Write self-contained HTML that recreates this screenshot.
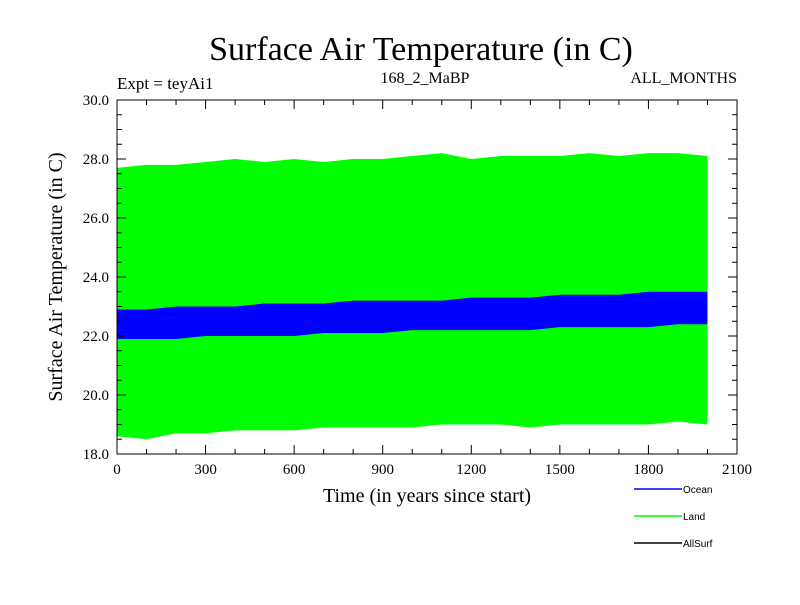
<!DOCTYPE html>
<html><head><meta charset="utf-8"><style>
body{margin:0;background:#fff;}
svg text{font-family:"Liberation Serif",serif;fill:#000;}
svg text.sans{font-family:"Liberation Sans",sans-serif;}
</style></head><body>
<svg id="chart" width="800" height="600" xmlns="http://www.w3.org/2000/svg">
<text x="421" y="60" text-anchor="middle" font-size="34">Surface Air Temperature (in C)</text>
<text x="117" y="89" font-size="17">Expt = teyAi1</text>
<text x="425" y="83" text-anchor="middle" font-size="16">168_2_MaBP</text>
<text x="737" y="83" text-anchor="end" font-size="16">ALL_MONTHS</text>
<g id="marks"></g>
<rect x="117" y="100" width="620" height="354" fill="none" stroke="#000" stroke-width="1"/>
<g id="axes"></g>
<text x="427" y="502" text-anchor="middle" font-size="20">Time (in years since start)</text>
<text transform="translate(62,277) rotate(-90)" text-anchor="middle" font-size="20">Surface Air Temperature (in C)</text>
<g>
<line x1="634" y1="489" x2="682" y2="489" stroke="#0000ff" stroke-width="1.5"/>
<text class="sans" x="683" y="493" font-size="10">Ocean</text>
<line x1="634" y1="516" x2="682" y2="516" stroke="#00ff00" stroke-width="1.5"/>
<text class="sans" x="683" y="520" font-size="10">Land</text>
<line x1="634" y1="543" x2="682" y2="543" stroke="#000" stroke-width="1.5"/>
<text class="sans" x="683" y="547" font-size="10">AllSurf</text>
</g>
</svg>
<script>
const years = [0,100,200,300,400,500,600,700,800,900,1000,1100,1200,1300,1400,1500,1600,1700,1800,1900,2000];
const landUpper = [27.7,27.8,27.8,27.9,28.0,27.9,28.0,27.9,28.0,28.0,28.1,28.2,28.0,28.1,28.1,28.1,28.2,28.1,28.2,28.2,28.1];
const landLower = [18.6,18.5,18.7,18.7,18.8,18.8,18.8,18.9,18.9,18.9,18.9,19.0,19.0,19.0,18.9,19.0,19.0,19.0,19.0,19.1,19.0];
const oceanUpper = [22.9,22.9,23.0,23.0,23.0,23.1,23.1,23.1,23.2,23.2,23.2,23.2,23.3,23.3,23.3,23.4,23.4,23.4,23.5,23.5,23.5];
const oceanLower = [21.9,21.9,21.9,22.0,22.0,22.0,22.0,22.1,22.1,22.1,22.2,22.2,22.2,22.2,22.2,22.3,22.3,22.3,22.3,22.4,22.4];
const xTicks = [0,300,600,900,1200,1500,1800,2100];
const yTicks = [18,20,22,24,26,28,30];

const NS="http://www.w3.org/2000/svg";
const X0=117,X1=737,Y0=454,Y1=100;
function xs(v){return X0+(v-0)/2100*(X1-X0);}
function ys(v){return Y0-(v-18)/12*(Y0-Y1);}
function mk(t,a,p){const e=document.createElementNS(NS,t);for(const k in a)e.setAttribute(k,a[k]);p.appendChild(e);return e;}
const marks=document.getElementById('marks'),axes=document.getElementById('axes');
function band(up,lo,col,name){
  let pts=years.map((y,i)=>xs(y)+','+ys(up[i]));
  for(let i=years.length-1;i>=0;i--)pts.push(xs(years[i])+','+ys(lo[i]));
  const p=mk('polygon',{points:pts.join(' '),fill:col},marks);
  
  
}
band(landUpper,landLower,'#00ff00','land-series');
band(oceanUpper,oceanLower,'#0000ff','ocean-series');
for(let v=0;v<=2100;v+=100){
  const major=v%300===0,x=xs(v),l=major?9:5;
  mk('line',{x1:x,y1:Y0,x2:x,y2:Y0-l,stroke:'#000'},axes);
  mk('line',{x1:x,y1:Y1,x2:x,y2:Y1+l,stroke:'#000'},axes);
}
for(let v=18;v<=30.001;v+=0.5){
  const major=Math.abs(v-Math.round(v/2)*2)<0.01,y=ys(v),l=major?9:5;
  mk('line',{x1:X0,y1:y,x2:X0+l,y2:y,stroke:'#000'},axes);
  mk('line',{x1:X1,y1:y,x2:X1-l,y2:y,stroke:'#000'},axes);
}
xTicks.forEach(v=>{const t=mk('text',{x:xs(v),y:Y0+20,'text-anchor':'middle','font-size':15},axes);t.textContent=v;
  
  });
yTicks.forEach(v=>{const t=mk('text',{x:X0-8,y:ys(v)+5,'text-anchor':'end','font-size':15},axes);t.textContent=v.toFixed(1);
  
  });
</script>
</body></html>
